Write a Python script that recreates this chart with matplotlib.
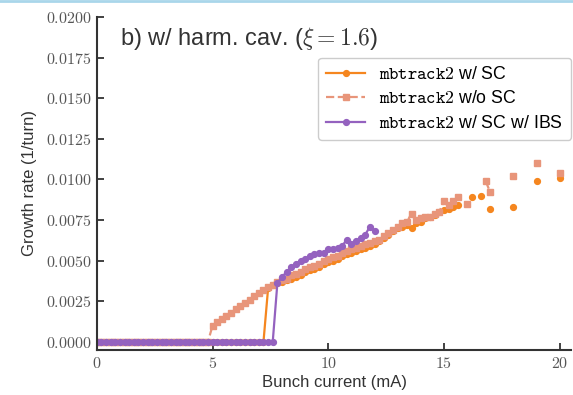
import numpy as np
import matplotlib.pyplot as plt
from matplotlib.ticker import FuncFormatter, MultipleLocator
from matplotlib.lines import Line2D

plt.rcParams['font.family'] = ['Liberation Sans', 'DejaVu Sans']
plt.rcParams['mathtext.fontset'] = 'cm'

nan = np.nan

# Data, bunch current in mA, growth rate in 1/turn
# mbtrack2 w/ SC
current_sc = [0.0, 0.2, 0.4, 0.6, 0.8, 1.0, 1.2, 1.4, 1.6, 1.8,
              2.0, 2.2, 2.4, 2.6, 2.8, 3.0, 3.2, 3.4, 3.6, 3.8,
              4.0, 4.2, 4.4, 4.6, 4.8, 5.0, 5.2, 5.4, 5.6, 5.8,
              6.0, 6.2, 6.4, 6.6, 6.8, 7.0, 7.2, 7.4, 7.6, 7.8,
              8.0, 8.2, 8.4, 8.6, 8.8, 9.0, 9.2, 9.4, 9.6, 9.8,
              10.0, 10.2, 10.4, 10.6, 10.8, 11.0, 11.2, 11.4, 11.6, 11.8,
              12.0, 12.2, 12.4, 12.6, 12.8, 13.0, 13.2, 13.4, 13.6, 13.8,
              14.0, 14.2, 14.4, 14.6, 14.8, 15.0, 15.2, 15.4, 15.6, 15.8,
              16.2, 16.4, 16.6, 16.8, 17.0, 17.5, 18.0, 18.5, 19.0, 19.5, 20.0]
growth_sc = [0.0, 0.0, 0.0, 0.0, 0.0, 0.0, 0.0, 0.0, 0.0, 0.0,
             0.0, 0.0, 0.0, 0.0, 0.0, 0.0, 0.0, 0.0, 0.0, 0.0,
             0.0, 0.0, 0.0, 0.0, 0.0, 0.0, 0.0, 0.0, 0.0, 0.0,
             0.0, 0.0, 0.0, 0.0, 0.0, 0.0, 0.0, 0.0033, 0.0035, 0.0036,
             0.0037, 0.0038, 0.0039, 0.0040, 0.0041, 0.0043, 0.0044, 0.0045, 0.0046, 0.0048,
             0.0049, 0.0050, 0.0051, 0.0053, 0.0054, 0.0055, 0.0056, 0.0057, 0.0058, 0.0059,
             0.0060, 0.0062, 0.0064, 0.0066, 0.0068, 0.0070, 0.0071, 0.0072, 0.0070, 0.0073,
             0.0074, 0.0076, 0.0077, 0.0078, 0.0080, 0.0081, 0.0082, 0.0083, 0.0084, nan,
             0.0089, nan, 0.0090, nan, 0.0082, nan, 0.0083, nan, 0.0099, nan, 0.0101]

# mbtrack2 w/o SC
current_nosc = [0.0, 0.2, 0.4, 0.6, 0.8, 1.0, 1.2, 1.4, 1.6, 1.8,
                2.0, 2.2, 2.4, 2.6, 2.8, 3.0, 3.2, 3.4, 3.6, 3.8,
                4.0, 4.2, 4.4, 4.6, 4.8, 5.0, 5.2, 5.4, 5.6, 5.8,
                6.0, 6.2, 6.4, 6.6, 6.8, 7.0, 7.2, 7.4, 7.6, 7.8,
                8.0, 8.2, 8.4, 8.6, 8.8, 9.0, 9.2, 9.4, 9.6, 9.8,
                10.0, 10.2, 10.4, 10.6, 10.8, 11.0, 11.2, 11.4, 11.6, 11.8,
                12.0, 12.2, 12.4, 12.6, 12.8, 13.0, 13.2, 13.4, 13.6, 13.8,
                14.0, 14.2, 14.4, 14.6, 14.8, 15.0, 15.2, 15.4, 15.6, 15.8,
                16.0, 16.4, 16.8, 17.0, 17.5, 18.0, 18.5, 19.0, 19.5, 20.0]
growth_nosc = [0.0, 0.0, 0.0, 0.0, 0.0, 0.0, 0.0, 0.0, 0.0, 0.0,
               0.0, 0.0, 0.0, 0.0, 0.0, 0.0, 0.0, 0.0, 0.0, 0.0,
               0.0, 0.0, 0.0, 0.0, 0.0, 0.0010, 0.0012, 0.0014, 0.0016, 0.0018,
               0.0020, 0.0022, 0.0024, 0.0026, 0.0028, 0.0030, 0.0032, 0.0034, 0.0035, 0.0037,
               0.0038, 0.0039, 0.0041, 0.0042, 0.0043, 0.0045, 0.0046, 0.0047, 0.0048, 0.0050,
               0.0051, 0.0052, 0.0053, 0.0055, 0.0056, 0.0057, 0.0058, 0.0059, 0.0060, 0.0061,
               0.0062, 0.0063, 0.0065, 0.0067, 0.0069, 0.0071, 0.0073, 0.0074, 0.0079, 0.0075,
               0.0076, 0.0077, 0.0077, 0.0079, 0.0080, 0.0087, 0.0084, 0.0087, 0.0089, nan,
               0.0085, nan, 0.0099, 0.0092, nan, 0.0102, nan, 0.0110, nan, 0.0104]

# mbtrack2 w/ SC w/ IBS
current_ibs = [0.0, 0.2, 0.4, 0.6, 0.8, 1.0, 1.2, 1.4, 1.6, 1.8,
               2.0, 2.2, 2.4, 2.6, 2.8, 3.0, 3.2, 3.4, 3.6, 3.8,
               4.0, 4.2, 4.4, 4.6, 4.8, 5.0, 5.2, 5.4, 5.6, 5.8,
               6.0, 6.2, 6.4, 6.6, 6.8, 7.0, 7.2, 7.4, 7.6, 7.8,
               8.0, 8.2, 8.4, 8.6, 8.8, 9.0, 9.2, 9.4, 9.6, 9.8,
               10.0, 10.2, 10.4, 10.6, 10.8, 11.0, 11.2, 11.4, 11.6, 11.8, 12.0]
growth_ibs = [0.0, 0.0, 0.0, 0.0, 0.0, 0.0, 0.0, 0.0, 0.0, 0.0,
              0.0, 0.0, 0.0, 0.0, 0.0, 0.0, 0.0, 0.0, 0.0, 0.0,
              0.0, 0.0, 0.0, 0.0, 0.0, 0.0, 0.0, 0.0, 0.0, 0.0,
              0.0, 0.0, 0.0, 0.0, 0.0, 0.0, 0.0, 0.0, 0.0, 0.0036,
              0.0040, 0.0043, 0.0046, 0.0048, 0.0050, 0.0051, 0.0053, 0.0054, 0.0055, 0.0055,
              0.0057, 0.0057, 0.0058, 0.0059, 0.0063, 0.0060, 0.0062, 0.0064, 0.0066, 0.0071, 0.0068]

c_sc = '#f5861f'
c_nosc = '#e8957a'
c_ibs = '#9462bf'

fig = plt.figure(figsize=(5.73, 3.95), dpi=100)
ax = fig.add_axes([0.169, 0.114, 0.828, 0.843])

ax.plot(current_sc, growth_sc, '-o', color=c_sc, lw=1.6, ms=4.2,
        label=r'$\mathtt{mbtrack2}$ w/ SC')
ax.plot(current_nosc, growth_nosc, '--s', color=c_nosc, lw=1.6, ms=4.6,
        label=r'$\mathtt{mbtrack2}$ w/o SC')
ax.plot(current_ibs, growth_ibs, '-o', color=c_ibs, lw=1.6, ms=4.2,
        label=r'$\mathtt{mbtrack2}$ w/ SC w/ IBS')

ax.set_xlim(0, 20.5)
ax.set_ylim(-0.0005, 0.02)
ax.xaxis.set_major_locator(MultipleLocator(5))
ax.yaxis.set_major_locator(MultipleLocator(0.0025))
ax.xaxis.set_major_formatter(FuncFormatter(lambda v, p: f'${v:.0f}$'))
ax.yaxis.set_major_formatter(FuncFormatter(lambda v, p: f'${v:.4f}$'))

for s in ['top', 'right']:
    ax.spines[s].set_visible(False)
for s in ['left', 'bottom']:
    ax.spines[s].set_color('#333333')
    ax.spines[s].set_linewidth(1.5)
ax.tick_params(direction='in', length=5, width=1.3, color='#333333',
               labelsize=11.5, labelcolor='#555555', pad=4)

ax.set_xlabel('Bunch current (mA)', fontsize=12, color='#333333', labelpad=3)
ax.set_ylabel('Growth rate (1/turn)', fontsize=12, color='#333333', labelpad=6)

ax.text(0.048, 0.935, r'b) w/ harm. cav. ($\xi = 1.6$)', transform=ax.transAxes,
        fontsize=17, color='#333333', va='center', ha='left')

ax.legend(loc='upper right', bbox_to_anchor=(1.0, 0.877), borderaxespad=0,
          fontsize=12.8, handlelength=2.2, labelspacing=0.42, framealpha=1,
          edgecolor='#cccccc', fancybox=True, borderpad=0.45)

# thin border line at the top of the screenshot
fig.add_artist(Line2D([0, 1], [0.997, 0.997], transform=fig.transFigure,
                      color='#a9d6ea', lw=2))

fig.savefig('out.png', dpi=100)
